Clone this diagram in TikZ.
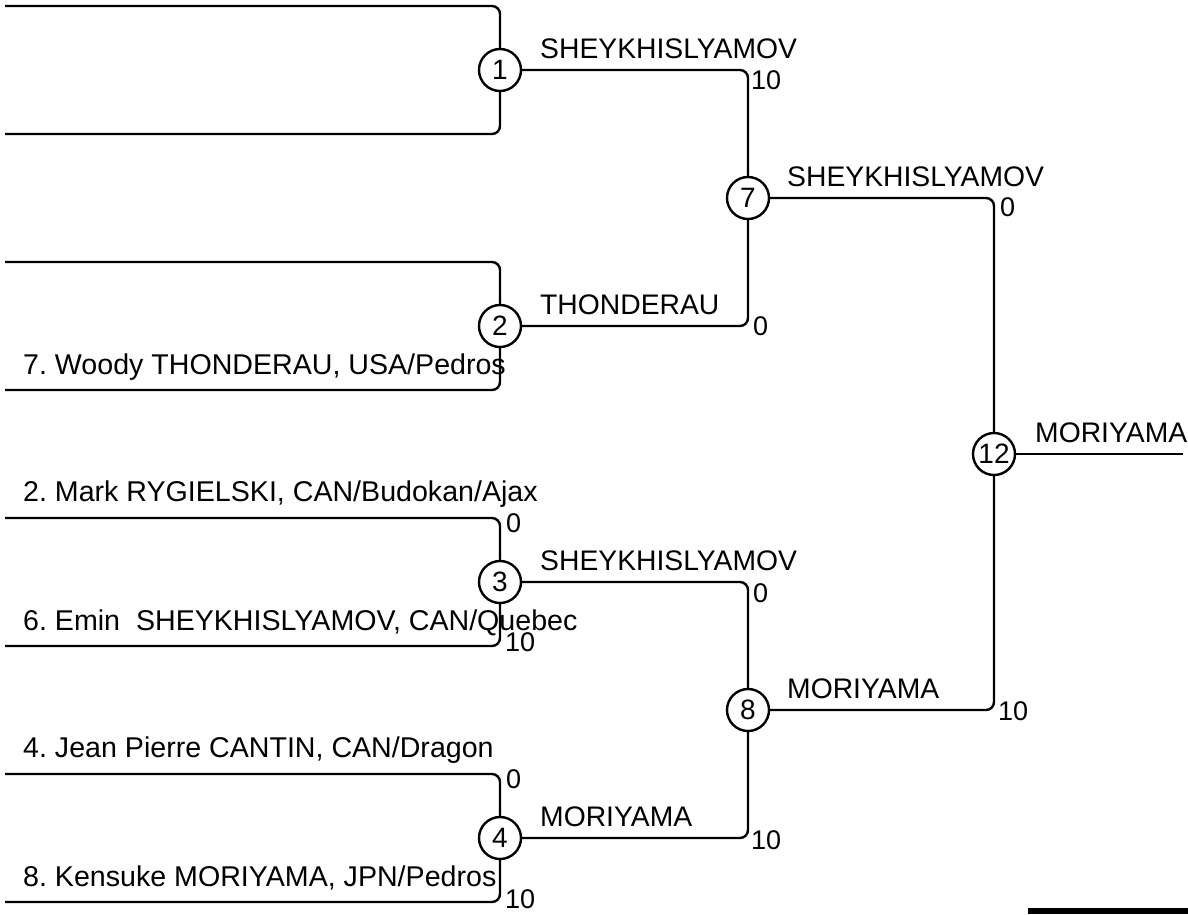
\documentclass[tikz,border=0pt]{standalone}
\usepackage{fontspec}
\setmainfont{Liberation Sans}
\frenchspacing
\begin{document}
\begin{tikzpicture}[x=1pt,y=-1pt,line width=2.4pt,
  mnode/.style={circle,draw,fill=white,minimum size=42pt,inner sep=0pt,font=\fontsize{28}{28}\selectfont},
  pname/.style={anchor=base west,inner sep=0pt,font=\fontsize{28.6}{29}\selectfont},
  win/.style={anchor=base west,inner sep=0pt,font=\fontsize{28.3}{29}\selectfont},
  score/.style={anchor=west,inner sep=0pt,font=\fontsize{27}{27}\selectfont},
  bline/.style={rounded corners=8pt}]
\useasboundingbox (0,0) rectangle (1188,914);
% match nodes
\node[mnode] (m1) at (500,70) {1};
\node[mnode] (m2) at (500,326) {2};
\node[mnode] (m3) at (500,582) {3};
\node[mnode] (m4) at (500,838) {4};
\node[mnode] (m7) at (748,198) {7};
\node[mnode] (m8) at (748,710) {8};
\node[mnode] (m12) at (994,454) {12};
% free ends
\coordinate (a1) at (5,6);
\coordinate (b1) at (5,134);
\coordinate (a2) at (5,262);
\coordinate (b2) at (5,390);
\coordinate (a3) at (5,518);
\coordinate (b3) at (5,646);
\coordinate (a4) at (5,774);
\coordinate (b4) at (5,902);
\coordinate (fin) at (1183,454);
% connectors
\draw[bline] (a1) -| (m1.north);
\draw[bline] (b1) -| (m1.south);
\draw[bline] (a2) -| (m2.north);
\draw[bline] (b2) -| (m2.south);
\draw[bline] (a3) -| (m3.north);
\draw[bline] (b3) -| (m3.south);
\draw[bline] (a4) -| (m4.north);
\draw[bline] (b4) -| (m4.south);
\draw[bline] (m1.east) -| (m7.north);
\draw[bline] (m2.east) -| (m7.south);
\draw[bline] (m3.east) -| (m8.north);
\draw[bline] (m4.east) -| (m8.south);
\draw[bline] (m7.east) -| (m12.north);
\draw[bline] (m8.east) -| (m12.south);
\draw (m12.east) -- (fin);
% competitor names
\node[pname] (n2b) at (22,374) {7. Woody THONDERAU, USA/Pedros};
\node[pname] (n3a) at (22,501) {2. Mark RYGIELSKI, CAN/Budokan/Ajax};
\node[pname] (n3b) at (22,630) {6. Emin~~SHEYKHISLYAMOV, CAN/Quebec};
\node[pname] (n4a) at (22,757) {4. Jean Pierre CANTIN, CAN/Dragon};
\node[pname] (n4b) at (22,886) {8. Kensuke MORIYAMA, JPN/Pedros};
% winners
\node[win] (w1) at (539,58) {SHEYKHISLYAMOV};
\node[win] (w2) at (539,314) {THONDERAU};
\node[win] (w3) at (539,570) {SHEYKHISLYAMOV};
\node[win] (w4) at (539,826) {MORIYAMA};
\node[win] (w7) at (786,186) {SHEYKHISLYAMOV};
\node[win] (w8) at (786,698) {MORIYAMA};
\node[win] (w12) at (1034,442) {MORIYAMA};
% scores
\node[score] (s3a) at (505,523) {0};
\node[score] (s3b) at (504,642) {10};
\node[score] (s4a) at (505,779) {0};
\node[score] (s4b) at (504,899) {10};
\node[score] (s1) at (750,80) {10};
\node[score] (s2) at (752,326) {0};
\node[score] (s3) at (752,593) {0};
\node[score] (s4) at (750,840) {10};
\node[score] (s7) at (999,207) {0};
\node[score] (s8) at (997,711) {10};
% bar
\fill (1028,908) rectangle (1188,914);
\end{tikzpicture}
\end{document}
